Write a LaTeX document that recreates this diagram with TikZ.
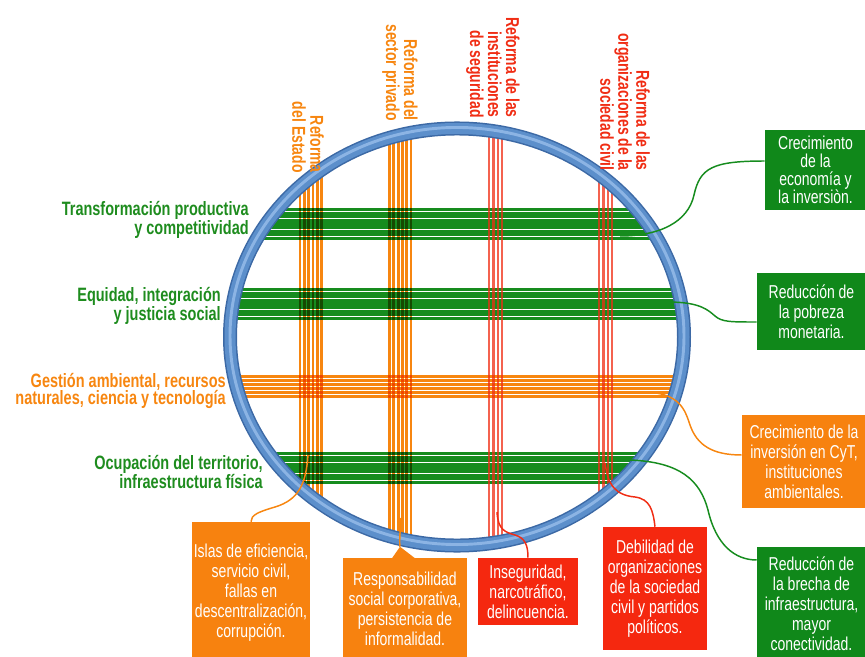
\documentclass[tikz,border=0pt]{standalone}
\usepackage{fontspec}
\setmainfont{Liberation Sans}[FakeStretch=0.75]
\usetikzlibrary{calc}

\definecolor{vGreen}{RGB}{22,140,30}
\definecolor{lblGreen}{RGB}{30,140,30}
\definecolor{vOrange}{RGB}{247,134,16}
\definecolor{vRed}{RGB}{240,45,20}
\definecolor{boxGreen}{RGB}{16,136,26}
\definecolor{boxOrange}{RGB}{247,130,15}
\definecolor{boxRed}{RGB}{245,40,15}
\definecolor{ringBlue}{RGB}{92,143,203}
\definecolor{ringDark}{RGB}{60,105,165}
\definecolor{ringLight}{RGB}{140,180,228}

\tikzset{
  rowlbl/.style={font=\fontsize{14.5}{13}\selectfont\bfseries, align=right, anchor=east, inner sep=0pt},
  collbl/.style={font=\fontsize{14}{13.5}\selectfont\bfseries, align=right, rotate=-90, anchor=east, inner sep=0pt},
  resbox/.style={font=\fontsize{14}{15}\selectfont, text=white, align=center, inner sep=0pt},
  link/.style={line width=1.1pt},
}

\begin{document}
\begin{tikzpicture}[x=0.75pt,y=-0.75pt]
  \useasboundingbox (0,0) rectangle (865,657);
  \clip (0,0) rectangle (865,657);

  % bundles inside the ring
  \begin{scope}
    \clip (457,337) ellipse [x radius=171.75pt, y radius=157.5pt];
    \foreach \y in {209.6,289.6,453.6}
      \foreach \i in {0,...,8}
        \draw[vGreen, line width=2.45pt] (220,\y+\i*3.6) -- (700,\y+\i*3.6);
    \foreach \i in {0,...,5}
      \draw[vOrange, line width=2.1pt] (220,376.5+\i*4) -- (700,376.5+\i*4);
    \begin{scope}[blend mode=multiply]
      \foreach \x in {300,389.5}
        \foreach \i in {0,...,5}
          \draw[vOrange, line width=2.1pt] (\x+\i*4.3,100) -- (\x+\i*4.3,600);
    \end{scope}
    \foreach \x in {489,599}
      \foreach \i in {0,...,3}
        \draw[vRed, line width=1.7pt, opacity=0.75] (\x+\i*4.4,100) -- (\x+\i*4.4,600);
  \end{scope}

  % ring
  \draw[ringDark, line width=10.5pt] (457,337) ellipse [x radius=170.25pt, y radius=156.4pt];
  \draw[ringBlue, line width=8.25pt] (457,337) ellipse [x radius=170.25pt, y radius=156.4pt];
  \draw[ringLight, line width=2.2pt] (457,336) ellipse [x radius=170.25pt, y radius=156.4pt];

  % row labels
  \node[rowlbl, text=lblGreen] (transf) at (249,220) {Transformación productiva\\y competitividad};
  \node[rowlbl, text=lblGreen] (equidad) at (221,306) {Equidad, integración\\y justicia social};
  \node[rowlbl, text=vOrange] (gestion) at (226,391) {Gestión ambiental, recursos\\naturales, ciencia y tecnología};
  \node[rowlbl, text=lblGreen] (ocupacion) at (263,472) {Ocupación del territorio,\\infraestructura física};

  % column labels
  \node[collbl, text=vOrange] (estado) at (308,173) {Reforma\\del Estado};
  \node[collbl, text=vOrange] (privado) at (400,121) {Reforma del\\sector privado};
  \node[collbl, text=vRed] (seguridad) at (493,118) {Reforma de las\\instituciones\\de seguridad};
  \node[collbl, text=vRed] (civil) at (625,171) {Reforma de las\\organizaciones de la\\sociedad civil};

  % result boxes
  \node[resbox, fill=boxGreen, minimum width=75.75pt, minimum height=60pt, font=\fontsize{14}{13.5}\selectfont] (crec) at (815.5,170) {Crecimiento\\de la\\economía y\\la inversiòn.};
  \node[resbox, fill=boxGreen, minimum width=81.75pt, minimum height=57.75pt] (pobreza) at (811.5,311.5) {Reducción de\\la pobreza\\monetaria.};
  \node[resbox, fill=boxOrange, minimum width=93pt, minimum height=69.75pt] (cyt) at (804,461.5) {Crecimiento de la\\inversión en CyT,\\instituciones\\ambientales.};
  \node[resbox, fill=boxGreen, minimum width=81.75pt, minimum height=84.75pt] (brecha) at (811.5,603.5) {Reducción de\\la brecha de\\infraestructura,\\mayor\\conectividad.};
  \node[resbox, fill=boxRed, minimum width=78pt, minimum height=92.25pt] (debil) at (655,588.5) {Debilidad de\\organizaciones\\de la sociedad\\civil y partidos\\políticos.};
  \node[resbox, fill=boxOrange, minimum width=88.5pt, minimum height=106.5pt] (islas) at (251,593) {Islas de eficiencia,\\servicio civil,\\fallas en\\descentralización,\\corrupción.};
  \node[resbox, fill=boxOrange, minimum width=93pt, minimum height=76.5pt] (resp) at (405,609) {Responsabilidad\\social corporativa,\\persistencia de\\informalidad.};
  \node[resbox, fill=boxRed, minimum width=75pt, minimum height=50.25pt] (inseg) at (528,591.5) {Inseguridad,\\narcotráfico,\\delincuencia.};
  \coordinate (resp-tip) at ($(resp.north)+(-5,-11)$);
  \fill[boxOrange] ($(resp.north)+(-13,0.5)$) -- (resp-tip) -- ($(resp.north)+(10,0.5)$) -- cycle;

  % bundle ends
  \coordinate (transf-r) at (620,236);
  \coordinate (equidad-r) at (668,302);
  \coordinate (gestion-r) at (645,392);
  \coordinate (ocupacion-r) at (630,460);
  \coordinate (civil-b) at (605,463);
  \coordinate (estado-b) at (308,455);
  \coordinate (privado-b) at (400,518);
  \coordinate (seguridad-b) at (497,512);

  % connectors
  \draw[link, vGreen] (transf-r) .. controls (660,236) and (688,222) .. (694,195) .. controls (700,168) and (712,161) .. ($(crec.west)+(0,-9)$);
  \draw[link, vGreen] (equidad-r) .. controls (700,302) and (708,310) .. (715,316) .. controls (722,322) and (730,322) .. ($(pobreza.west)+(0,10.5)$);
  \draw[link, vOrange] (gestion-r) .. controls (680,393) and (685,410) .. (690,425) .. controls (697,445) and (712,455) .. ($(cyt.west)+(0,-6.5)$);
  \draw[link, vGreen] (ocupacion-r) .. controls (680,462) and (700,480) .. (708,510) .. controls (716,545) and (735,560) .. ($(brecha.west)+(0,-43.5)$);
  \draw[link, vRed] (civil-b) .. controls (608,485) and (615,495) .. (635,497) .. controls (650,499) and (653,510) .. (debil.north);
  \draw[link, vOrange] (estado-b) .. controls (306,485) and (298,500) .. (275,507) .. controls (258,512) and (251,515) .. (islas.north);
  \draw[link, vOrange] (privado-b) .. controls (401,530) and (399,538) .. (resp-tip);
  \draw[link, vRed] (seguridad-b) .. controls (498,530) and (505,532) .. (515,535) .. controls (525,538) and (528,545) .. (inseg.north);
\end{tikzpicture}
\end{document}
